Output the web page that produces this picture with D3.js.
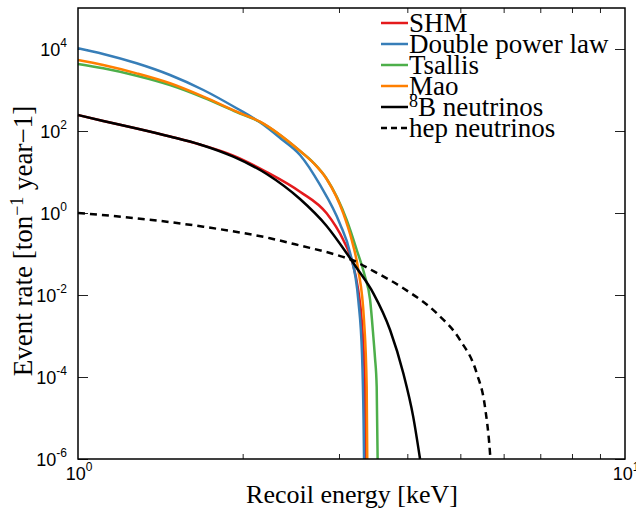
<!DOCTYPE html>
<html>
<head>
<meta charset="utf-8">
<script src="https://cdn.jsdelivr.net/npm/d3@7"></script>
<style>
  html, body { margin: 0; padding: 0; background: #fff; }
  svg { display: block; }
</style>
</head>
<body>
<svg id="chart" width="636" height="512"></svg>
<script>
// ---------------- data ----------------
const shmE    = [1, 1.112, 1.28, 1.473, 1.671, 1.923, 2.213, 2.546, 2.848, 3.055, 3.165, 3.253, 3.301, 3.347, 3.358];
const shmRate = [245, 175, 115, 73.5, 46.9, 25.2, 10.0, 3.31, 0.98, 0.219, 0.071, 0.0133, 2.45e-3, 5.8e-5, 1e-6];

const dplE    = [1, 1.112, 1.28, 1.473, 1.695, 1.95, 2.151, 2.35, 2.546, 2.77, 3.013, 3.144, 3.254, 3.306, 3.327, 3.334];
const dplRate = [1.04e4, 7.55e3, 4.48e3, 2.32e3, 1.0e3, 358, 163, 64.9, 26, 4.82, 0.54, 0.106, 7.55e-3, 3.44e-4, 8.9e-6, 1e-6];

const tsaE    = [1, 1.112, 1.28, 1.473, 1.695, 1.95, 2.151, 2.546, 2.7, 2.848, 3.099, 3.233, 3.347, 3.42, 3.467, 3.49, 3.516, 3.53];
const tsaRate = [4.3e3, 3.38e3, 2.23e3, 1.32e3, 656, 291, 167, 32.5, 16.3, 6.85, 0.675, 0.125, 0.028, 7.55e-3, 9.6e-4, 3.1e-4, 5.8e-5, 1e-6];

const maoE    = [1, 1.112, 1.28, 1.473, 1.695, 1.95, 2.151, 2.546, 2.7, 2.848, 3.055, 3.165, 3.254, 3.333, 3.371, 3.379];
const maoRate = [5.4e3, 4.07e3, 2.55e3, 1.46e3, 687, 296, 169, 32.5, 16.1, 6.75, 0.98, 0.219, 0.041, 2.45e-3, 5.8e-5, 1e-6];

const b8E     = [1, 1.112, 1.28, 1.473, 1.671, 1.923, 2.213, 2.546, 2.848, 3.099, 3.233, 3.467, 3.72, 3.933, 4.10, 4.22];
const b8Rate  = [245, 175, 115, 73.5, 46.9, 23.6, 8.93, 2.19, 0.482, 0.104, 0.0456, 0.011, 1.4e-3, 1.23e-4, 1.08e-5, 1e-6];

const hepE    = [1, 1.28, 1.695, 2.244, 2.546, 2.971, 3.186, 3.42, 3.933, 4.527, 4.994, 5.357, 5.546, 5.665, 5.675];
const hepRate = [1.0, 0.743, 0.463, 0.242, 0.161, 0.0947, 0.0694, 0.0424, 0.0146, 3.58e-3, 7.97e-4, 1.23e-4, 1.89e-5, 1.4e-6, 1e-6];

const seriesNames  = ["SHM", "Double power law", "Tsallis", "Mao", "8B neutrinos", "hep neutrinos"];
const seriesColors = ["#e41a1c", "#377eb8", "#4daf4a", "#ff7f00", "#000000", "#000000"];

const xTickMinor = [2, 3, 4, 5, 6, 7, 8, 9];
const xTickMajor = [1, 10];
const yTickValues = [1e-6, 1e-4, 1e-2, 1, 1e2, 1e4];
const xLabelExp = ["0", "1"];
const yLabelExp = ["-6", "-4", "-2", "0", "2", "4"];

// ---------------- layout ----------------
const L = 78, R = 625, T = 8, B = 459;
const svg = d3.select("#chart");
const x = d3.scaleLog().domain([1, 10]).range([L, R]);
const y = d3.scaleLog().domain([1e-6, 1e5]).range([B, T]);

function styleAxis(g) {
  g.attr("font-family", null).attr("font-size", null);
  g.select(".domain").remove();
  g.selectAll(".tick line").attr("stroke", "#222").attr("stroke-width", 1);
  g.selectAll(".tick text").remove();
}
svg.append("g").attr("transform", `translate(0,${B})`)
  .call(d3.axisBottom(x).tickValues(xTickMinor).tickSize(-5).tickFormat(() => "")).call(styleAxis);
svg.append("g").attr("transform", `translate(0,${T})`)
  .call(d3.axisTop(x).tickValues(xTickMinor).tickSize(-5).tickFormat(() => "")).call(styleAxis);
svg.append("g").attr("transform", `translate(${L},0)`)
  .call(d3.axisLeft(y).tickValues(yTickValues).tickSize(-10).tickFormat(() => "")).call(styleAxis);
svg.append("g").attr("transform", `translate(${R},0)`)
  .call(d3.axisRight(y).tickValues(yTickValues).tickSize(-10).tickFormat(() => "")).call(styleAxis);

// curves
const line = d3.line().x(d => x(d[0])).y(d => y(Math.max(d[1], 1e-6))).curve(d3.curveMonotoneX);
const plot = svg.append("g");
const series = [
  [shmE, shmRate, 0, null],
  [dplE, dplRate, 1, null],
  [tsaE, tsaRate, 2, null],
  [maoE, maoRate, 3, null],
  [b8E, b8Rate, 4, null],
  [hepE, hepRate, 5, "7,5"]
];
series.forEach(([es, rs, i, dash]) => {
  const pts = es.map((e, k) => [e, rs[k]]);
  plot.append("path").datum(pts)
    .attr("d", line)
    .attr("fill", "none")
    .attr("stroke", seriesColors[i])
    .attr("stroke-width", 2.5)
    .attr("stroke-dasharray", dash)
    .attr("stroke-linejoin", "round");
});

// frame
svg.append("rect").attr("x", L).attr("y", T).attr("width", R - L).attr("height", B - T)
  .attr("fill", "none").attr("stroke", "#000").attr("stroke-width", 1.5);

// tick labels
yTickValues.forEach((v, i) => {
  const t = svg.append("text").attr("x", 67).attr("y", y(v) + 6.5)
    .attr("text-anchor", "end").attr("fill", "#000")
    .attr("font-family", "Liberation Sans").attr("font-size", 18);
  t.append("tspan").text("10");
  t.append("tspan").attr("dy", -9).attr("font-size", 12).text(yLabelExp[i]);
});
xTickMajor.forEach((v, i) => {
  const t = svg.append("text").attr("x", x(v) + 1).attr("y", 480)
    .attr("text-anchor", "middle").attr("fill", "#000")
    .attr("font-family", "Liberation Sans").attr("font-size", 18);
  t.append("tspan").text("10");
  t.append("tspan").attr("dy", -9).attr("font-size", 12).text(xLabelExp[i]);
});

// axis titles
svg.append("text").attr("x", 352).attr("y", 503)
  .attr("text-anchor", "middle")
  .attr("font-family", "Liberation Serif").attr("font-size", 26)
  .text("Recoil energy [keV]");

const yl = svg.append("text").attr("transform", "translate(32,241) rotate(-90)")
  .attr("text-anchor", "middle")
  .attr("font-family", "Liberation Serif").attr("font-size", 27);
yl.append("tspan").text("Event rate [ton");
yl.append("tspan").attr("dy", -9).attr("font-size", 18).text("\u22121");
yl.append("tspan").attr("dy", 9).text(" year\u22121]");

// legend
const legY0 = 23, legDy = 21;
seriesNames.forEach((name, i) => {
  const ly = legY0 + i * legDy;
  svg.append("line").attr("x1", 381).attr("x2", 408).attr("y1", ly).attr("y2", ly)
    .attr("stroke", seriesColors[i]).attr("stroke-width", 2.5)
    .attr("stroke-dasharray", i === 5 ? "6,4" : null);
  const t = svg.append("text").attr("x", 409).attr("y", ly + 8.5).attr("fill", "#000")
    .attr("font-family", "Liberation Serif").attr("font-size", 27);
  if (i === 4) {
    t.append("tspan").attr("dy", -9).attr("font-size", 18).text("8");
    t.append("tspan").attr("dy", 9).text("B neutrinos");
  } else {
    t.text(name);
  }
});
</script>
</body>
</html>
